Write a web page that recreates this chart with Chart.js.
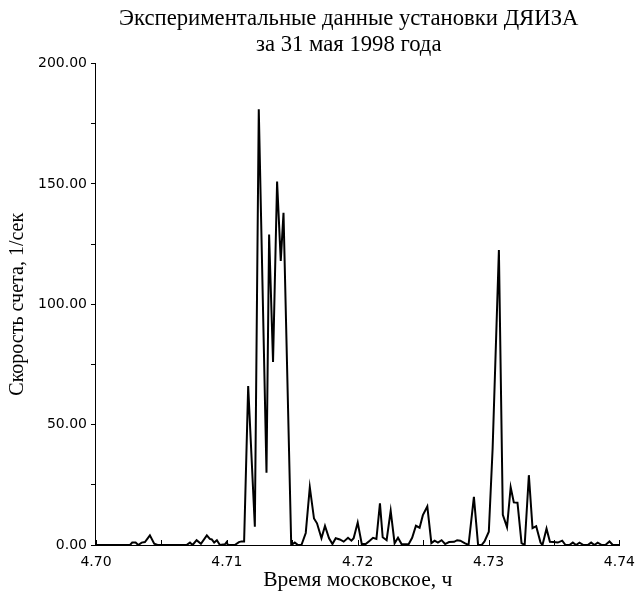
<!DOCTYPE html>
<html>
<head>
<meta charset="utf-8">
<script src="https://cdn.jsdelivr.net/npm/chart.js@4.4.1/dist/chart.umd.min.js"></script>
<style>
  html, body { margin: 0; padding: 0; background: #fff; }
  #wrap { width: 637px; height: 591px; }
</style>
</head>
<body>
<div id="wrap"><canvas id="c" width="637" height="591"></canvas></div>
<script>
// Title and axis labels
const titleLines = ['Экспериментальные данные установки ДЯИЗА', 'за 31 мая 1998 года'];
const xTitle = 'Время московское, ч';
const yTitle = 'Скорость счета, 1/сек';

// Time of each reading, hours (Moscow time)
const times = [
  4.70000, 4.70260, 4.70277, 4.70303, 4.70323, 4.70349, 4.70374, 4.70412, 4.70445, 4.70471,
  4.70692, 4.70718, 4.70738, 4.70769, 4.70802, 4.70847, 4.70870, 4.70885, 4.70903, 4.70924,
  4.70947, 4.70985, 4.70998, 4.71008, 4.71061, 4.71092, 4.71112, 4.71132, 4.71163, 4.71214,
  4.71244, 4.71303, 4.71323, 4.71353, 4.71384, 4.71412, 4.71433, 4.71492, 4.71519, 4.71544,
  4.71570, 4.71603, 4.71634, 4.71666, 4.71689, 4.71723, 4.71750, 4.71781, 4.71807, 4.71832,
  4.71863, 4.71893, 4.71926, 4.71952, 4.71969, 4.72000, 4.72031, 4.72061, 4.72092, 4.72117,
  4.72143, 4.72170, 4.72191, 4.72221, 4.72252, 4.72282, 4.72308, 4.72336, 4.72389, 4.72416,
  4.72445, 4.72473, 4.72498, 4.72532, 4.72563, 4.72588, 4.72613, 4.72641, 4.72668, 4.72698,
  4.72737, 4.72760, 4.72784, 4.72817, 4.72847, 4.72888, 4.72920, 4.72947, 4.72969, 4.73002,
  4.73031, 4.73079, 4.73109, 4.73141, 4.73169, 4.73193, 4.73221, 4.73252, 4.73276, 4.73308,
  4.73336, 4.73364, 4.73397, 4.73412, 4.73443, 4.73469, 4.73498, 4.73529, 4.73563, 4.73588,
  4.73618, 4.73644, 4.73669, 4.73695, 4.73725, 4.73758, 4.73784, 4.73809, 4.73834, 4.73865,
  4.73893, 4.73924, 4.73949, 4.74000
];

// Count rate, 1/s
const counts = [
  0, 0, 1, 1, 0, 1, 1.2, 4, 0.5, 0,
  0, 1, 0, 2, 0.5, 4, 2.5, 2.3, 1, 2,
  0, 0.3, 1.2, 0, 0, 1.2, 1.5, 1.5, 66, 7.6,
  181, 30, 129, 76, 151, 118, 138, 0, 1, 0,
  0, 5, 24, 11, 9, 2.8, 7.9, 2.8, 0.4, 2.8,
  2.3, 1.4, 3, 1.8, 2.8, 9.3, 0.4, 0.4, 1.8, 3,
  2.5, 17.3, 3.2, 2, 14.2, 0.7, 3, 0.3, 0.3, 3,
  8, 7.2, 12.4, 16, 0.8, 1.8, 1, 2, 0.4, 1.2,
  1.3, 2, 1.8, 0.8, 0, 20, 0, 0, 1.5, 5.5,
  40, 122.5, 12.5, 7.4, 24, 17.7, 17.6, 0.8, 0, 29,
  7, 7.8, 1, 0, 6.8, 1.3, 1.2, 1, 1.8, 0,
  0, 1, 0, 1, 0, 0, 1, 0, 1, 0,
  0, 1.5, 0, 0
];

// Axis ranges and tick steps
const xMin = 4.70, xMax = 4.74, xStep = 0.005, xLabelStep = 0.01;
const yMin = 0, yMax = 200, yStep = 25, yLabelStep = 50;

const points = times.map((t, i) => ({ x: t, y: counts[i] }));

const inwardXTicks = {
  id: 'inwardXTicks',
  afterLayout(chart) {
    // nudge the title block slightly left, as in the original
    const tb = chart.titleBlock;
    if (tb) { tb.left -= 9; tb.right -= 9; }
  },
  afterDraw(chart) {
    const xs = chart.scales.x;
    const ctx = chart.ctx;
    const bottom = chart.chartArea.bottom;
    ctx.save();
    ctx.strokeStyle = '#000';
    ctx.lineWidth = 1;
    ctx.beginPath();
    xs.ticks.forEach(t => {
      const px = Math.round(xs.getPixelForValue(t.value)) + 0.5;
      ctx.moveTo(px, bottom);
      ctx.lineTo(px, bottom - 5);
    });
    ctx.stroke();
    ctx.restore();
  }
};

new Chart(document.getElementById('c'), {
  type: 'line',
  data: {
    datasets: [{
      data: points,
      borderColor: '#000',
      borderWidth: 2,
      pointRadius: 0,
      tension: 0,
      fill: false
    }]
  },
  options: {
    responsive: false,
    animation: false,
    devicePixelRatio: 1,
    layout: { padding: { left: 0, right: 0, top: 0, bottom: 0 } },
    plugins: {
      legend: { display: false },
      tooltip: { enabled: false },
      title: {
        display: true,
        text: titleLines,
        fullSize: false,
        color: '#000',
        font: { family: '"Liberation Serif", "Times New Roman", serif', size: 22.7, weight: 'normal', lineHeight: 1.135 },
        padding: { top: 6, bottom: 6 }
      }
    },
    scales: {
      x: {
        type: 'linear',
        min: xMin,
        max: xMax,
        border: { display: true, color: '#000', width: 1 },
        grid: { drawOnChartArea: false, drawTicks: false },
        ticks: {
          stepSize: xStep,
          autoSkip: false,
          maxRotation: 0,
          padding: 2,
          color: '#000',
          font: { family: '"DejaVu Sans", sans-serif', size: 14, lineHeight: 2.2 },
          callback: v => (Math.abs(Math.round(v / xLabelStep) * xLabelStep - v) < 1e-6) ? v.toFixed(2) : ''
        },
        title: {
          display: true,
          text: xTitle,
          color: '#000',
          font: { family: '"Liberation Serif", "Times New Roman", serif', size: 21.5, lineHeight: 1 },
          padding: { top: -10.3, bottom: 0 }
        }
      },
      y: {
        min: yMin,
        max: yMax,
        border: { display: true, color: '#000', width: 1 },
        grid: { drawOnChartArea: false, drawTicks: true, tickLength: 5, tickColor: '#000' },
        ticks: {
          stepSize: yStep,
          autoSkip: false,
          padding: 4,
          color: '#000',
          font: { family: '"DejaVu Sans", sans-serif', size: 14 },
          callback: v => (v % yLabelStep === 0) ? v.toFixed(2) : ''
        },
        title: {
          display: true,
          text: yTitle,
          color: '#000',
          font: { family: '"Liberation Serif", "Times New Roman", serif', size: 20, lineHeight: 1.2 },
          padding: { top: 6, bottom: 4 }
        }
      }
    }
  },
  plugins: [inwardXTicks]
});
</script>
</body>
</html>
